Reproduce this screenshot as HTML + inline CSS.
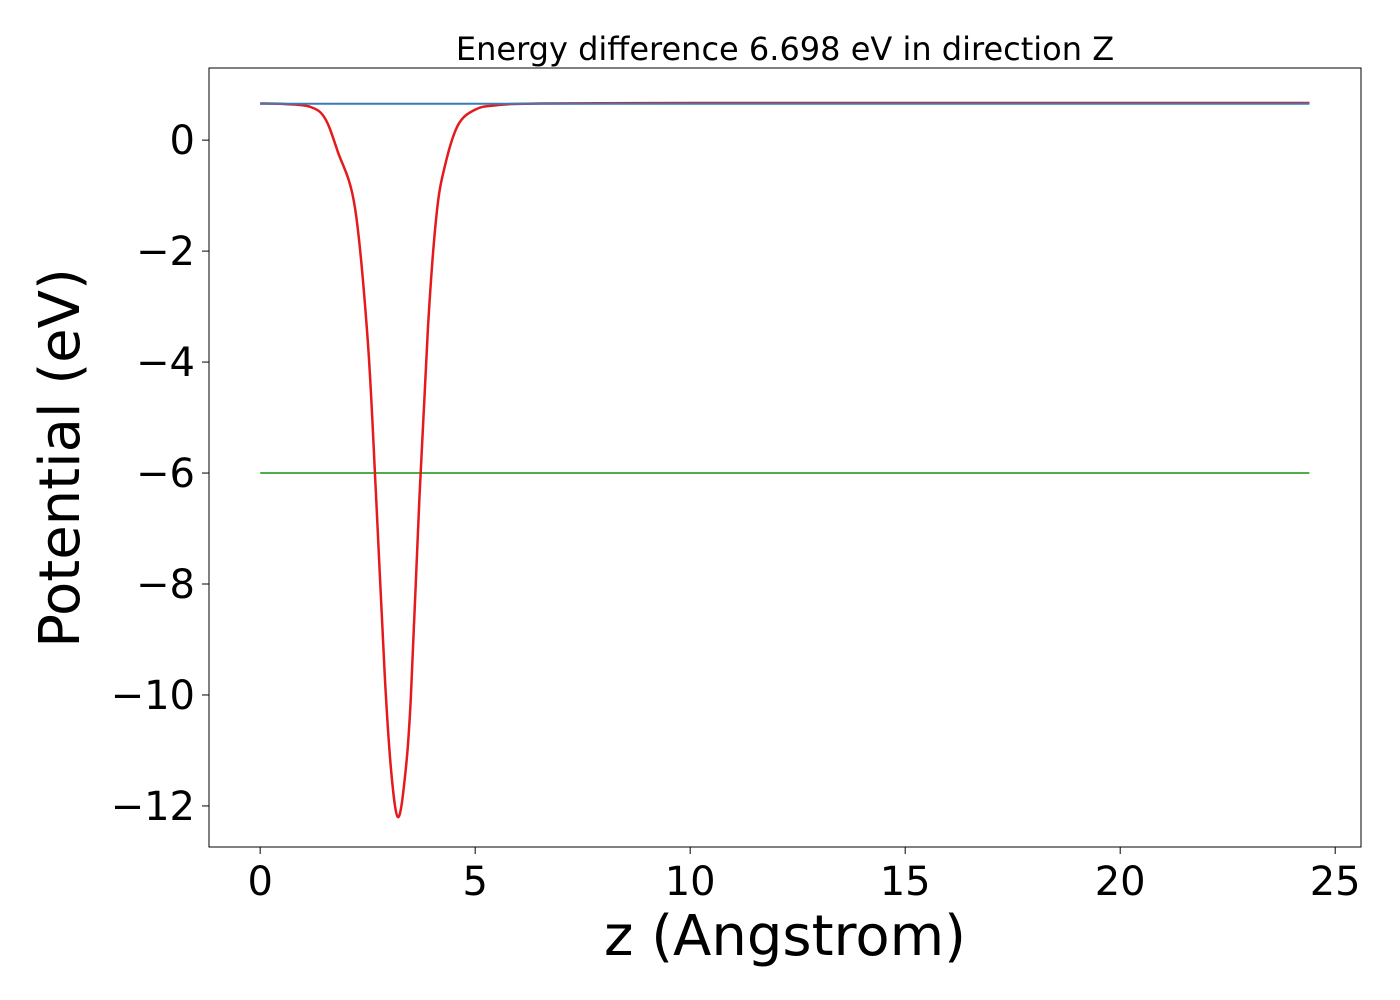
<!DOCTYPE html>
<html><head><meta charset="utf-8"><style>
body{margin:0;background:#fff;}
svg{display:block;font-family:"DejaVu Sans","Liberation Sans",sans-serif;}
</style></head><body>
<svg id="chart" width="1400" height="1000"></svg>
<script>
const xTicks=[0,5,10,15,20,25];
const yTicks=[0,-2,-4,-6,-8,-10,-12];
const redZ=[0,0.6,1.16,1.5,1.8,2.2,2.5,2.7,2.9,3.05,3.2,3.35,3.5,3.7,3.9,4.1,4.3,4.6,5,5.5,6.5,10,15,20,24.4];
const redV=[0.66,0.65,0.6,0.4,-0.2,-1.2,-3.6,-6.5,-9.7,-11.4,-12.2,-11.6,-10.1,-6.5,-3.4,-1.35,-0.45,0.27,0.55,0.63,0.66,0.67,0.67,0.67,0.67];
const blueZ=[0,24.4];
const blueV=[0.655,0.655];
const greenZ=[0,24.4];
const greenV=[-6.0,-6.0];
const L=209,R=1361,T=68,B=847;
const xmin=-1.19,xmax=25.6,ymin=-12.74,ymax=1.30;
const sx=v=>L+(v-xmin)/(xmax-xmin)*(R-L);
const sy=v=>T+(ymax-v)/(ymax-ymin)*(B-T);
const NS="http://www.w3.org/2000/svg";
const svg=document.getElementById('chart');
function mk(tag,attrs,parent){const e=document.createElementNS(NS,tag);for(const k in attrs)e.setAttribute(k,attrs[k]);(parent||svg).appendChild(e);return e;}
function path(zs,vs){return zs.map((z,i)=>(i?'L':'M')+sx(z).toFixed(1)+','+sy(vs[i]).toFixed(1)).join(' ');}
// smooth red via Catmull-Rom
function smooth(zs,vs){const p=zs.map((z,i)=>[sx(z),sy(vs[i])]);let d='M'+p[0][0]+','+p[0][1];for(let i=0;i<p.length-1;i++){const p0=p[i-1]||p[i],p1=p[i],p2=p[i+1],p3=p[i+2]||p2;const c1=[p1[0]+(p2[0]-p0[0])/6,p1[1]+(p2[1]-p0[1])/6],c2=[p2[0]-(p3[0]-p1[0])/6,p2[1]-(p3[1]-p1[1])/6];d+=` C${c1[0].toFixed(1)},${c1[1].toFixed(1)} ${c2[0].toFixed(1)},${c2[1].toFixed(1)} ${p2[0].toFixed(1)},${p2[1].toFixed(1)}`;}return d;}
const g=mk('path',{d:path(greenZ,greenV),stroke:'#4daf4a',"stroke-width":2,fill:'none'});


const r=mk('path',{d:smooth(redZ,redV),stroke:'#e41a1c',"stroke-width":2.5,fill:'none'});


const b=mk('path',{d:path(blueZ,blueV),stroke:'#377eb8',"stroke-width":2,fill:'none'});


const fr=mk('rect',{x:L,y:T,width:R-L,height:B-T,fill:'none',stroke:'#000',"stroke-width":1});


xTicks.forEach(t=>{const x=sx(t);
 const l=mk('line',{x1:x,x2:x,y1:B,y2:B+7,stroke:'#000'});
 
 
 const tx=mk('text',{x:x,y:B+48,"text-anchor":'middle',"font-size":40});tx.textContent=t;
 
 });
yTicks.forEach(t=>{const y=sy(t);
 const l=mk('line',{x1:L-7,x2:L,y1:y,y2:y,stroke:'#000'});
 
 
 const tx=mk('text',{x:L-14,y:y+14,"text-anchor":'end',"font-size":40});tx.textContent=t<0?'\u2212'+(-t):t;
 
 });
const ti=mk('text',{x:785,y:60,"text-anchor":'middle',"font-size":32});ti.textContent='Energy difference 6.698 eV in direction Z';


const xl=mk('text',{x:785,y:955,"text-anchor":'middle',"font-size":56});xl.textContent='z (Angstrom)';


const yl=mk('text',{x:0,y:0,"text-anchor":'middle',"font-size":56,transform:'translate(79,458) rotate(-90)'});yl.textContent='Potential (eV)';


</script>
</body></html>
